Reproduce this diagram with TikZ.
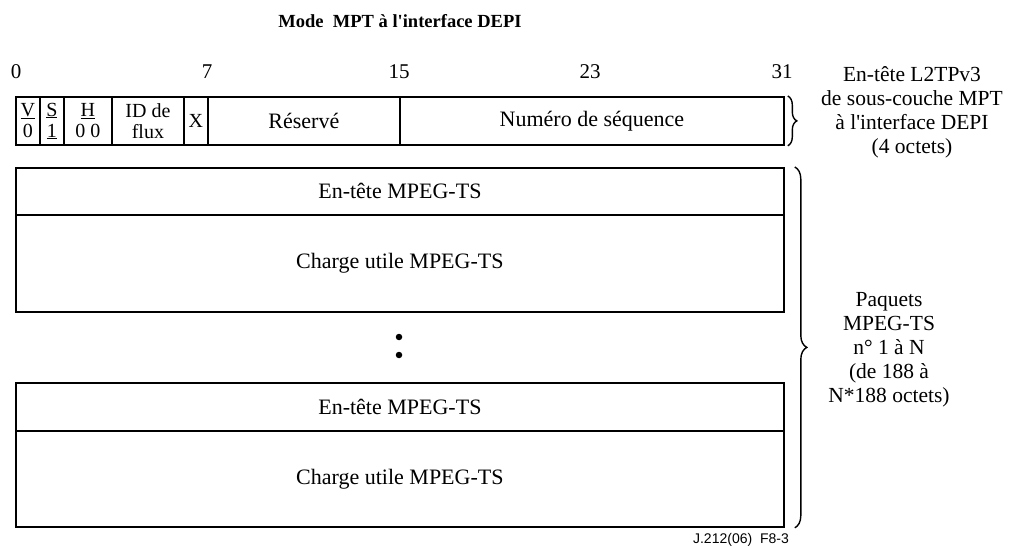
\documentclass[tikz,border=0pt]{standalone}
\usepackage{fontspec}
\setmainfont{Liberation Serif}
\newfontfamily\footfont{Liberation Sans}
\usetikzlibrary{decorations.pathreplacing}
\newcommand{\apos}{\textquotesingle}
\begin{document}
\begin{tikzpicture}[x=1pt,y=-1pt,
  fieldbox/.style={draw, line width=1.8pt, inner sep=0pt, anchor=north west,
    align=center, font=\fontsize{20}{21}\selectfont},
  rowbox/.style={fieldbox, minimum height=48pt},
  pktbox/.style={fieldbox, minimum width=768pt, font=\fontsize{22}{24}\selectfont},
  bitlabel/.style={inner sep=0pt, font=\fontsize{21}{24}\selectfont},
  sidetext/.style={align=center, inner sep=0pt, font=\fontsize{21.5}{24}\selectfont},
  curly/.style={line width=1.4pt, decorate, decoration={brace, amplitude=#1}},
  dotmark/.style={circle, fill, inner sep=0pt, minimum size=6.5pt}]

\useasboundingbox (0,0) rectangle (1020,548);

% title
\node[font=\fontsize{18.5}{20}\selectfont\bfseries] (title) at (400,21) {Mode\ \ MPT à l\apos interface DEPI};

% bit numbering
\node[bitlabel] (b0)  at (16,72)  {0};
\node[bitlabel] (b7)  at (207,72) {7};
\node[bitlabel] (b15) at (399,72) {15};
\node[bitlabel] (b23) at (590,72) {23};
\node[bitlabel] (b31) at (782,72) {31};

% MPT sub-layer header fields (24pt per bit)
\node[rowbox, minimum width=24pt]  (fv)   at (15,96)  {\underline{V}\\0};
\node[rowbox, minimum width=24pt]  (fs)   at (39,96)  {\underline{S}\\\underline{1}};
\node[rowbox, minimum width=48pt]  (fh)   at (63,96)  {\underline{H}\\0 0};
\node[rowbox, minimum width=72pt]  (fid)  at (111,96) {ID de\\flux};
\node[rowbox, minimum width=24pt]  (fx)   at (183,96) {X};
\node[rowbox, minimum width=192pt, font=\fontsize{22}{24}\selectfont] (fres) at (207,96) {Réservé};
\node[rowbox, minimum width=384pt, font=\fontsize{22}{24}\selectfont] (fseq) at (399,96) {Numéro de séquence};

% first MPEG-TS packet
\node[pktbox, minimum height=47pt] (hdA)  at (15,167) {En-tête MPEG-TS};
\node[pktbox, minimum height=97pt] (payA) at (15,214) {Charge utile MPEG-TS};

% continuation dots
\node[dotmark] (d1) at (399,337) {};
\node[dotmark] (d2) at (399,355) {};

% last MPEG-TS packet
\node[pktbox, minimum height=48pt] (hdB)  at (15,382) {En-tête MPEG-TS};
\node[pktbox, minimum height=96pt] (payB) at (15,430) {Charge utile MPEG-TS};

% braces and their descriptions
\draw[curly=9pt] ([xshift=3pt]fseq.north east) -- ([xshift=3pt]fseq.south east);
\draw[curly=12pt] ([xshift=10pt]hdA.north east) -- ([xshift=10pt]payB.south east);

\node[sidetext] (hdrnote) at (912,112) {En-tête L2TPv3\\de sous-couche MPT\\à l\apos interface DEPI\\(4 octets)};
\node[sidetext] (pktnote) at (889,350) {Paquets\\MPEG-TS\\n° 1 à N\\(de 188 à\\N*188 octets)};

% figure reference
\node[font=\footfont\fontsize{14}{16}\selectfont, anchor=base east, inner sep=0pt] (ref) at (789,543) {J.212(06)\ \ F8-3};
\end{tikzpicture}
\end{document}
